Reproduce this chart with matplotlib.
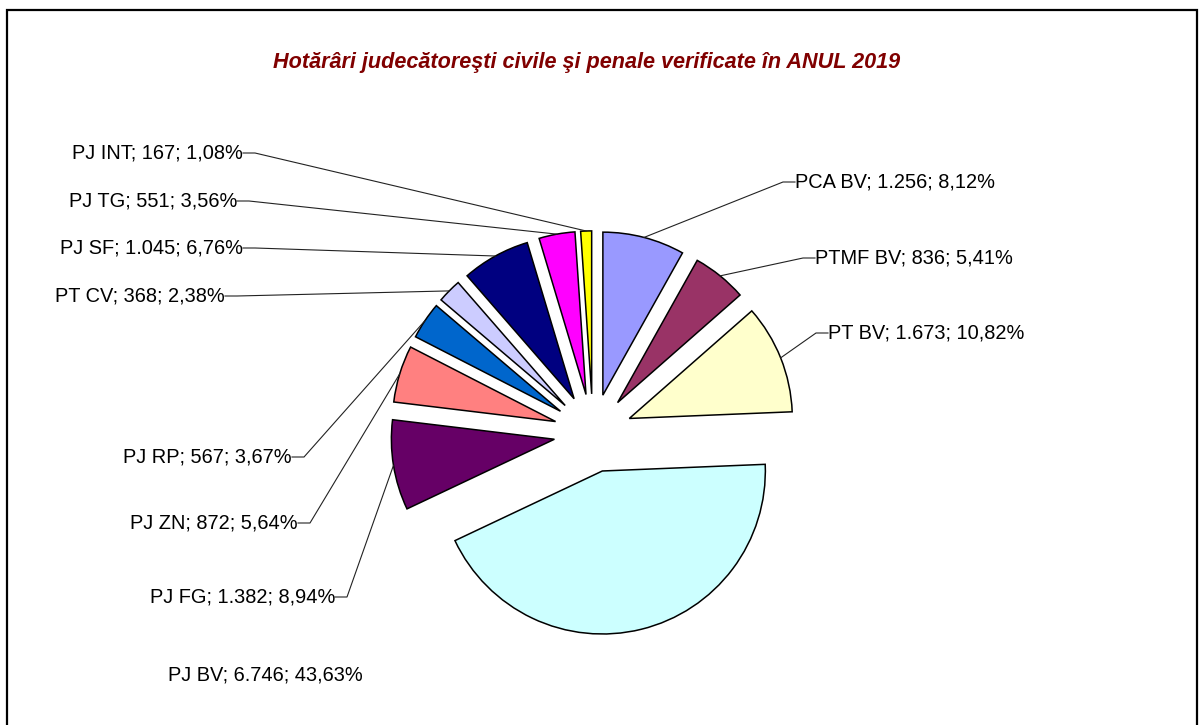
import numpy as np
import matplotlib
matplotlib.use("Agg")
import matplotlib.pyplot as plt
from matplotlib.patches import Rectangle

plt.rcParams["font.family"] = ["Liberation Sans", "DejaVu Sans"]

W, H = 1199, 725

courts = ["PCA BV", "PTMF BV", "PT BV", "PJ BV", "PJ FG", "PJ ZN",
          "PJ RP", "PT CV", "PJ SF", "PJ TG", "PJ INT"]
counts = [1256, 836, 1673, 6746, 1382, 872, 567, 368, 1045, 551, 167]
colors = ["#9999FF", "#993366", "#FFFFCC", "#CCFFFF", "#660066", "#FF8080",
          "#0066CC", "#CCCCFF", "#000080", "#FF00FF", "#FFFF00"]

# label anchor (image px): attach x, centre y, side
# 'l' = text to the right of the tick, 'r' = text to the left, 'c' = no leader
label_pos = {
    "PCA BV": (795, 182, "l"), "PTMF BV": (815, 258, "l"), "PT BV": (828, 333, "l"),
    "PJ BV": (265, 675, "c"), "PJ FG": (335, 597, "r"), "PJ ZN": (298, 523, "r"),
    "PJ RP": (292, 457, "r"), "PT CV": (225, 296, "r"), "PJ SF": (243, 248, "r"),
    "PJ TG": (237, 201, "r"), "PJ INT": (243, 153, "r"),
}


def fmt_label(name, v, total):
    pct = f"{100 * v / total:.2f}".replace(".", ",")
    num = f"{v:,}".replace(",", ".")
    return f"{name}; {num}; {pct}%"


fig = plt.figure(figsize=(W / 100, H / 100), dpi=100)
ax = fig.add_axes([0, 0, 1, 1])

cx, cy, r = 593, H - 433, 163
expl = 0.24 * r  # pie adds explode in data units
wedges, _ = ax.pie(counts, colors=colors, startangle=90, counterclock=False,
                   explode=[expl] * len(counts), center=(cx, cy), radius=r,
                   wedgeprops=dict(edgecolor="black", linewidth=1.1))
ax.set_xlim(0, W)
ax.set_ylim(0, H)
ax.set_aspect("equal")
ax.axis("off")

total = sum(counts)
for w, name, v in zip(wedges, courts, counts):
    mid = np.deg2rad((w.theta1 + w.theta2) / 2)
    wx, wy = w.center
    ex, ey = wx + r * np.cos(mid), wy + r * np.sin(mid)
    x, yi, side = label_pos[name]
    y = H - yi
    txt = fmt_label(name, v, total)
    if side == "c":
        ax.text(x, y, txt, ha="center", va="center", fontsize=14.4)
        continue
    tick = 12 if side == "l" else -12
    ha = "left" if side == "l" else "right"
    ax.text(x, y, txt, ha=ha, va="center", fontsize=14.4)
    ax.plot([x, x - tick, ex], [y, y, ey], color="#222222", lw=0.8,
            solid_joinstyle="miter")

ax.text(587, H - 62, "Hotărâri judecătoreşti civile şi penale verificate în ANUL 2019",
        ha="center", va="center", fontsize=15.6, fontweight="bold",
        fontstyle="italic", color="#800000")

fig.patches.append(Rectangle((7 / W, -0.05), 1190 / W, 1.05 - 10 / H,
                             transform=fig.transFigure, fill=False,
                             edgecolor="black", linewidth=1.6))

fig.savefig("out.png", dpi=100)
